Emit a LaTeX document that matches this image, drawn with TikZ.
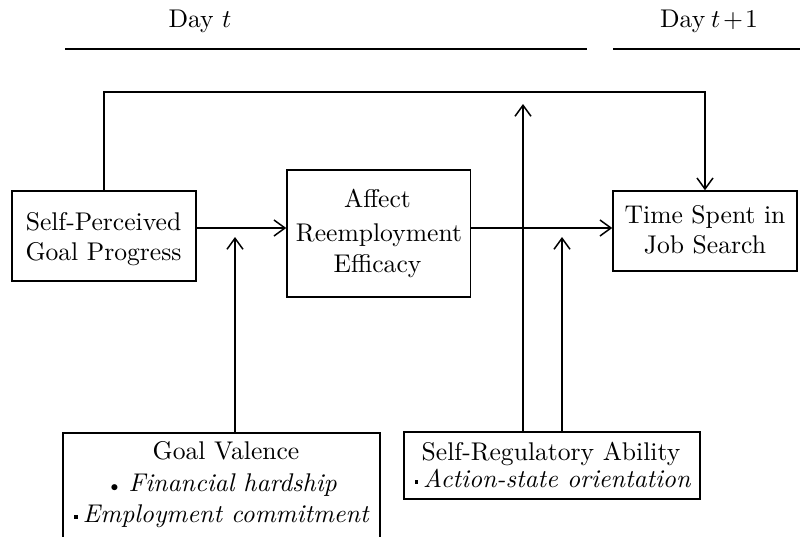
\documentclass[tikz,border=0pt]{standalone}
\usepackage{fontspec}
\setmainfont{lmroman10-regular.otf}[ItalicFont=lmroman10-italic.otf]
\usepackage{unicode-math}
\setmathfont{latinmodern-math.otf}
\usetikzlibrary{arrows.meta}
\begin{document}
\begin{tikzpicture}[x=1pt,y=-1pt,
  box/.style={draw,line width=1.5pt,inner sep=0pt},
  lbl/.style={anchor=base,inner sep=0pt,font=\fontsize{25.6}{30}\selectfont},
  conn/.style={line width=1.5pt},
  arr/.style={line width=1.5pt,-{Straight Barb[length=11pt,width=16pt,line width=1.5pt]}}]
\useasboundingbox (0,0) rectangle (800,536);
\newcommand{\sqbul}{\raisebox{3.5pt}{\rule{3.6pt}{3.6pt}}\hspace{5pt}}
\newcommand{\rdbul}{\raisebox{-1.5pt}{\fontsize{21}{21}\selectfont\textbullet}\hspace{6pt}}
% day labels
\node[lbl] (dayt) at (200,27) {Day $t$};
\node[lbl] (daytt) at (709,27) {Day\hspace{-2pt} $t\hspace{2pt}{+}\hspace{2pt}1$};
\draw[conn] (65,49) -- (587,49);
\draw[conn] (613,49) -- (800,49);
% boxes
\node[box,minimum width=184pt,minimum height=90pt] (spgp) at (104,236) {};
\node[lbl] at (103.5,230) {Self-Perceived};
\node[lbl] at (103.5,260) {Goal Progress};
\node[box,minimum width=183.5pt,minimum height=127pt] (are) at (378.75,233.5) {};
\node[lbl] at (377.5,207) {Affect};
\node[lbl] at (379,241.5) {Reemployment};
\node[lbl] at (377.5,272) {Efficacy};
\node[box,minimum width=184pt,minimum height=80pt] (tsjs) at (705,231) {};
\node[lbl] at (705,223) {Time Spent in};
\node[lbl] at (705,253) {Job Search};
\node[box,minimum width=317pt,minimum height=116pt,anchor=north] (gv) at (221.5,432) {};
\node[lbl] at (226,459) {Goal Valence};
\node[lbl] at (221.5,491) {\rdbul\itshape Financial hardship};
\node[lbl] at (221.5,522) {\sqbul\itshape Employment commitment};
\node[box,minimum width=296pt,minimum height=67pt] (sra) at (552,465.5) {};
\node[lbl] at (551,460) {Self-Regulatory Ability};
\node[lbl] at (552.5,487) {\sqbul\itshape Action-state orientation};
% coordinates
\coordinate (r1) at (0,228);
\coordinate (topy) at (0,92);
\coordinate (gvtip) at (235,237);
\coordinate (sraA) at (523,104);
\coordinate (sraB) at (562,237);
% connectors
\draw[arr] (spgp.east |- r1) -- (are.west |- r1);
\draw[arr] (are.east |- r1) -- (tsjs.west |- r1);
\draw[arr] (spgp.north) -- (spgp.north |- topy) -| (tsjs.north);
\draw[arr] (gv.north -| gvtip) -- (gvtip);
\draw[arr] (sra.north -| sraA) -- (sraA);
\draw[arr] (sra.north -| sraB) -- (sraB);
\end{tikzpicture}
\end{document}
